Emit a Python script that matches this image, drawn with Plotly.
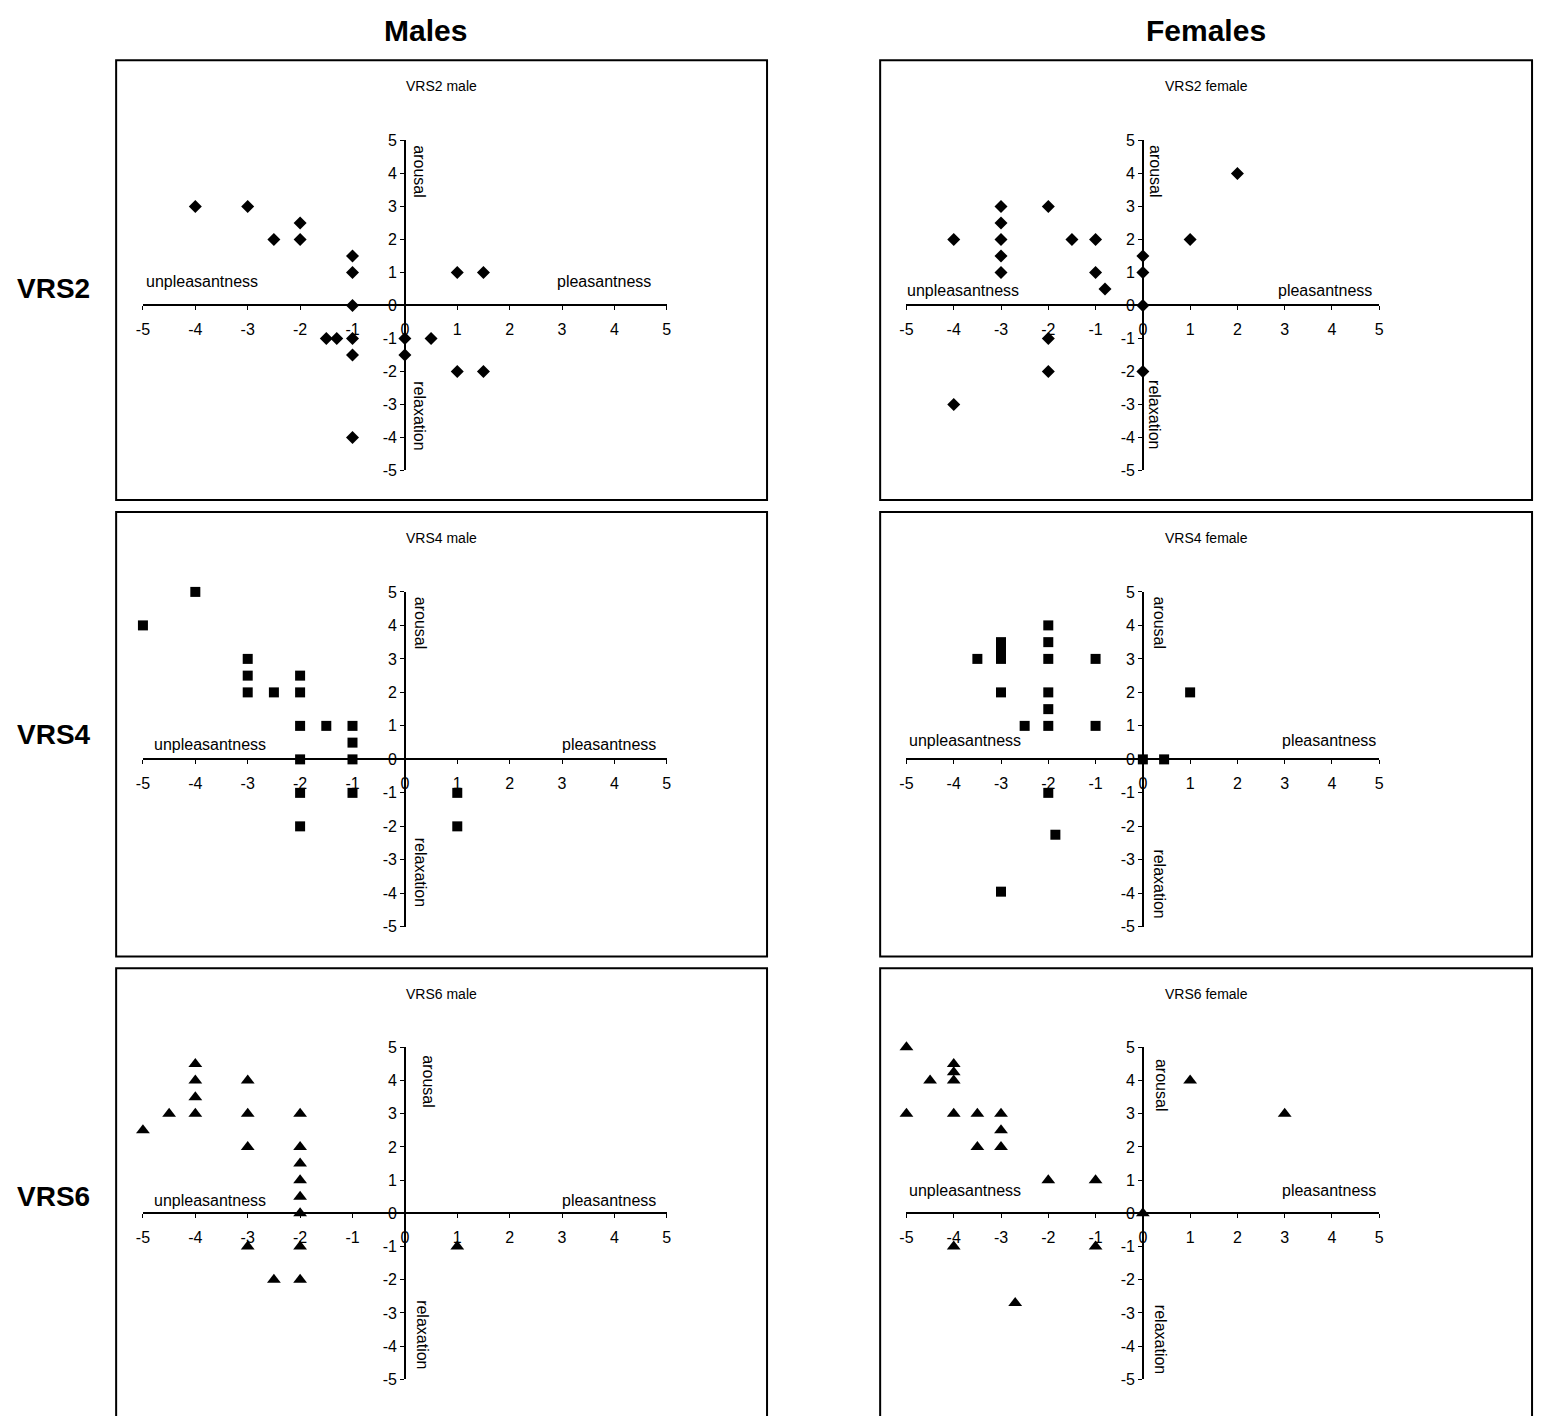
import plotly.graph_objects as go

# ---------------- data ----------------
male_vrs2_x = [-4, -3, -2, -2.5, -2, -1, -1, -1, 1, 1.5, -1.5, -1.3, -1, -1, 0, 0.5, 0, 1, 1.5, -1]
male_vrs2_y = [3, 3, 2.5, 2, 2, 1.5, 1, 0, 1, 1, -1, -1, -1, -1.5, -1, -1, -1.5, -2, -2, -4]

female_vrs2_x = [-4, -3, -3, -3, -3, -3, -2, -1.5, -1, -1, -0.8, 0, 0, 0, 1, 2, -2, -2, 0, -4]
female_vrs2_y = [2, 3, 2.5, 2, 1.5, 1, 3, 2, 2, 1, 0.5, 1.5, 1, 0, 2, 4, -1, -2, -2, -3]

male_vrs4_x = [-4, -5, -3, -3, -3, -2.5, -2, -2, -2, -1.5, -1, -1, -2, -1, -2, -1, -2, 1, 1]
male_vrs4_y = [5, 4, 3, 2.5, 2, 2, 2.5, 2, 1, 1, 1, 0.5, 0, 0, -1, -1, -2, -1, -2]

female_vrs4_x = [-2, -3, -3, -3, -3.5, -2, -2, -1, -3, -2, -2, -2.5, -2, -1, 1, 0, 0.45, -2, -1.85, -3]
female_vrs4_y = [4, 3.5, 3.25, 3, 3, 3.5, 3, 3, 2, 2, 1.5, 1, 1, 1, 2, 0, 0, -1, -2.25, -3.95]

male_vrs6_x = [-4, -4, -4, -4, -4.5, -5, -3, -3, -3, -2, -2, -2, -2, -2, -2, -3, -2, -2.5, -2, 1]
male_vrs6_y = [4.5, 4, 3.5, 3, 3, 2.5, 4, 3, 2, 3, 2, 1.5, 1, 0.5, 0, -1, -1, -2, -2, -1]

female_vrs6_x = [-5, -4, -4, -4, -4.5, -5, -4, -3.5, -3, -3, -3.5, -3, -2, -1, 0, -4, -1, -2.7, 1, 3]
female_vrs6_y = [5, 4.5, 4.25, 4, 4, 3, 3, 3, 3, 2.5, 2, 2, 1, 1, 0, -1, -1, -2.7, 4, 3]

tick_vals = [-5, -4, -3, -2, -1, 0, 1, 2, 3, 4, 5]
column_titles = ["Males", "Females"]
row_titles = ["VRS2", "VRS4", "VRS6"]
panel_titles = [["VRS2 male", "VRS2 female"], ["VRS4 male", "VRS4 female"], ["VRS6 male", "VRS6 female"]]
series = [[(male_vrs2_x, male_vrs2_y), (female_vrs2_x, female_vrs2_y)],
          [(male_vrs4_x, male_vrs4_y), (female_vrs4_x, female_vrs4_y)],
          [(male_vrs6_x, male_vrs6_y), (female_vrs6_x, female_vrs6_y)]]
symbols = ["diamond", "square", "triangle-up"]
sizes = [10, 10, 12]

# ---------------- layout (pixels of the 1543x1416 page) ----------------
W, H = 1543, 1416
FONT = "Liberation Sans, Arial, sans-serif"


def px(x):
    return x / W


def py(y):
    return 1 - y / H


col_x = [(137, 665), (906.5, 1383)]           # x pixel span of -5..5
row_y = [(134, 468), (591, 930), (1052, 1388)]  # y pixel span of 5..-5
boxes_x = [(110, 766), (880, 1537)]
boxes_y = [(53, 498), (510, 960), (972, 1440)]
col_title_x = [422, 1208]
row_title_y = [284, 735, 1203]

# label positions [row][col] : (unpl_x, unpl_y, pl_x, pl_y, arousal_x, arousal_y, relax_x, relax_y)
label_pos = [
    [(197, 277, 602, 277, 416, 165, 416, 413), (963, 286, 1328, 286, 1158, 165, 1157, 411)],
    [(205, 745, 607, 745, 417, 622, 417, 875), (966, 741, 1332, 741, 1162, 622, 1162, 887)],
    [(205, 1207, 607, 1207, 424, 1086, 418, 1343), (966, 1197, 1332, 1197, 1163, 1090, 1162, 1348)],
]

fig = go.Figure()
layout = dict(
    width=W, height=H, autosize=False,
    margin=dict(l=0, r=0, t=0, b=0),
    paper_bgcolor="white", plot_bgcolor="rgba(0,0,0,0)",
    showlegend=False,
    font=dict(family=FONT, color="black"),
)
annotations = []
shapes = []

k = 0
for r in range(3):
    for c in range(2):
        k += 1
        xa = "xaxis" if k == 1 else f"xaxis{k}"
        ya = "yaxis" if k == 1 else f"yaxis{k}"
        xr = "x" if k == 1 else f"x{k}"
        yr = "y" if k == 1 else f"y{k}"
        x0, x1 = col_x[c]
        y0, y1 = row_y[r]
        xdom = [px(x0), px(x1)]
        ydom = [py(y1), py(y0)]
        sx, sy = series[r][c]
        fig.add_trace(go.Scatter(
            x=sx, y=sy, mode="markers", xaxis=xr, yaxis=yr,
            marker=dict(symbol=symbols[r], size=sizes[r], color="black",
                        line=dict(width=0)),
            cliponaxis=False, hoverinfo="x+y",
        ))
        axis_common = dict(
            range=[-5, 5], tickvals=tick_vals, ticktext=[str(v) for v in tick_vals],
            showgrid=False, zeroline=False, showline=True, linecolor="black",
            linewidth=1.5, ticks="outside", ticklen=4, tickwidth=1.2,
            tickcolor="black", tickfont=dict(family=FONT, size=16, color="black"),
            fixedrange=True,
        )
        layout[xa] = dict(axis_common, domain=xdom, anchor="free",
                          position=(ydom[0] + ydom[1]) / 2, ticklabelstandoff=6)
        layout[ya] = dict(axis_common, domain=ydom, anchor="free",
                          position=(xdom[0] + xdom[1]) / 2)
        # panel box
        bx0, bx1 = boxes_x[c]
        by0, by1 = boxes_y[r]
        shapes.append(dict(type="rect", xref="paper", yref="paper",
                           x0=px(bx0), x1=px(bx1), y0=py(by1), y1=py(by0),
                           line=dict(color="black", width=2), fillcolor="rgba(0,0,0,0)"))
        # panel title
        annotations.append(dict(text=panel_titles[r][c], xref="paper", yref="paper",
                                x=px((bx0 + bx1) / 2), y=py(by0 + 26), showarrow=False,
                                xanchor="center", yanchor="middle",
                                font=dict(family=FONT, size=14, color="black")))
        ux, uy, plx, ply, ax_, ay_, rx, ry = label_pos[r][c]
        for txt, tx, ty, ang in [("unpleasantness", ux, uy, 0), ("pleasantness", plx, ply, 0),
                                 ("arousal", ax_, ay_, 90), ("relaxation", rx, ry, 90)]:
            annotations.append(dict(text=txt, xref="paper", yref="paper", x=px(tx), y=py(ty),
                                    showarrow=False, xanchor="center", yanchor="middle",
                                    textangle=ang,
                                    font=dict(family=FONT, size=16, color="black")))

for c in range(2):
    annotations.append(dict(text="<b>%s</b>" % column_titles[c], xref="paper", yref="paper",
                            x=px(col_title_x[c]), y=py(23), showarrow=False,
                            xanchor="center", yanchor="middle",
                            font=dict(family=FONT, size=30, color="black")))
for r in range(3):
    annotations.append(dict(text="<b>%s</b>" % row_titles[r], xref="paper", yref="paper",
                            x=px(47), y=py(row_title_y[r]), showarrow=False,
                            xanchor="center", yanchor="middle",
                            font=dict(family=FONT, size=28, color="black")))

layout["annotations"] = annotations
layout["shapes"] = shapes
fig.update_layout(**layout)
fig.write_html("out.html", config={"displayModeBar": False},
               post_script="document.body.style.margin='0';document.body.style.overflow='hidden';")
